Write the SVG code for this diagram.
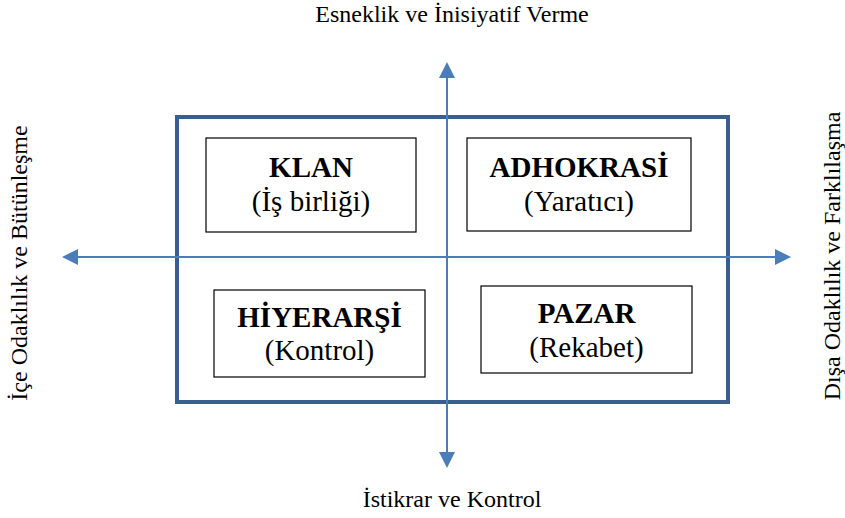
<svg xmlns="http://www.w3.org/2000/svg" width="845" height="518" viewBox="0 0 845 518">
<defs>
<style>
.tx{fill:#000;text-anchor:middle}
.h{font-weight:bold;font-size:29px}
.s{font-size:29px}
.ax{font-size:24px}
.box{fill:#fff;stroke:#000;stroke-width:1.2}
.axis{stroke:#4a7ebb;stroke-width:2;fill:none}
</style>
<marker id="ah" markerWidth="8" markerHeight="8" refX="7" refY="4" orient="auto" markerUnits="strokeWidth"><path d="M0,0 L8,4 L0,8 z" fill="#4a7ebb"/></marker>
</defs>
<rect id="frame" x="177" y="117" width="551" height="285" fill="none" stroke="#3a5f8e" stroke-width="4"/>
<g id="connectors">
<line class="axis" x1="447" y1="257" x2="447" y2="64" marker-end="url(#ah)"/>
<line class="axis" x1="447" y1="257" x2="447" y2="466" marker-end="url(#ah)"/>
<line class="axis" x1="447" y1="257" x2="64" y2="257" marker-end="url(#ah)"/>
<line class="axis" x1="447" y1="257" x2="789" y2="257" marker-end="url(#ah)"/>
</g>
<g font-family="Liberation Serif, DejaVu Serif, serif">
<g id="klan">
<rect class="box" x="206" y="138" width="210" height="94"/>
<text class="tx h" x="311" y="177">KLAN</text>
<text class="tx s" x="311" y="211">(İş birliği)</text>
</g>
<g id="adhokrasi">
<rect class="box" x="467" y="138" width="224" height="93"/>
<text class="tx h" x="579" y="177">ADHOKRASİ</text>
<text class="tx s" x="579" y="211">(Yaratıcı)</text>
</g>
<g id="hiyerarsi">
<rect class="box" x="214" y="290" width="211" height="87"/>
<text class="tx h" x="319.5" y="327">HİYERARŞİ</text>
<text class="tx s" x="319.5" y="360">(Kontrol)</text>
</g>
<g id="pazar">
<rect class="box" x="481" y="286" width="211" height="87"/>
<text class="tx h" x="586.5" y="323">PAZAR</text>
<text class="tx s" x="586.5" y="357">(Rekabet)</text>
</g>
<g id="labels">
<text class="tx ax" x="452" y="22">Esneklik ve İnisiyatif Verme</text>
<text class="tx ax" x="452" y="507">İstikrar ve Kontrol</text>
<text class="tx ax" transform="translate(27,263) rotate(-90)">İçe Odaklılık ve Bütünleşme</text>
<text class="tx ax" transform="translate(840,256) rotate(-90)">Dışa Odaklılık ve Farklılaşma</text>
</g>
</g>
</svg>
